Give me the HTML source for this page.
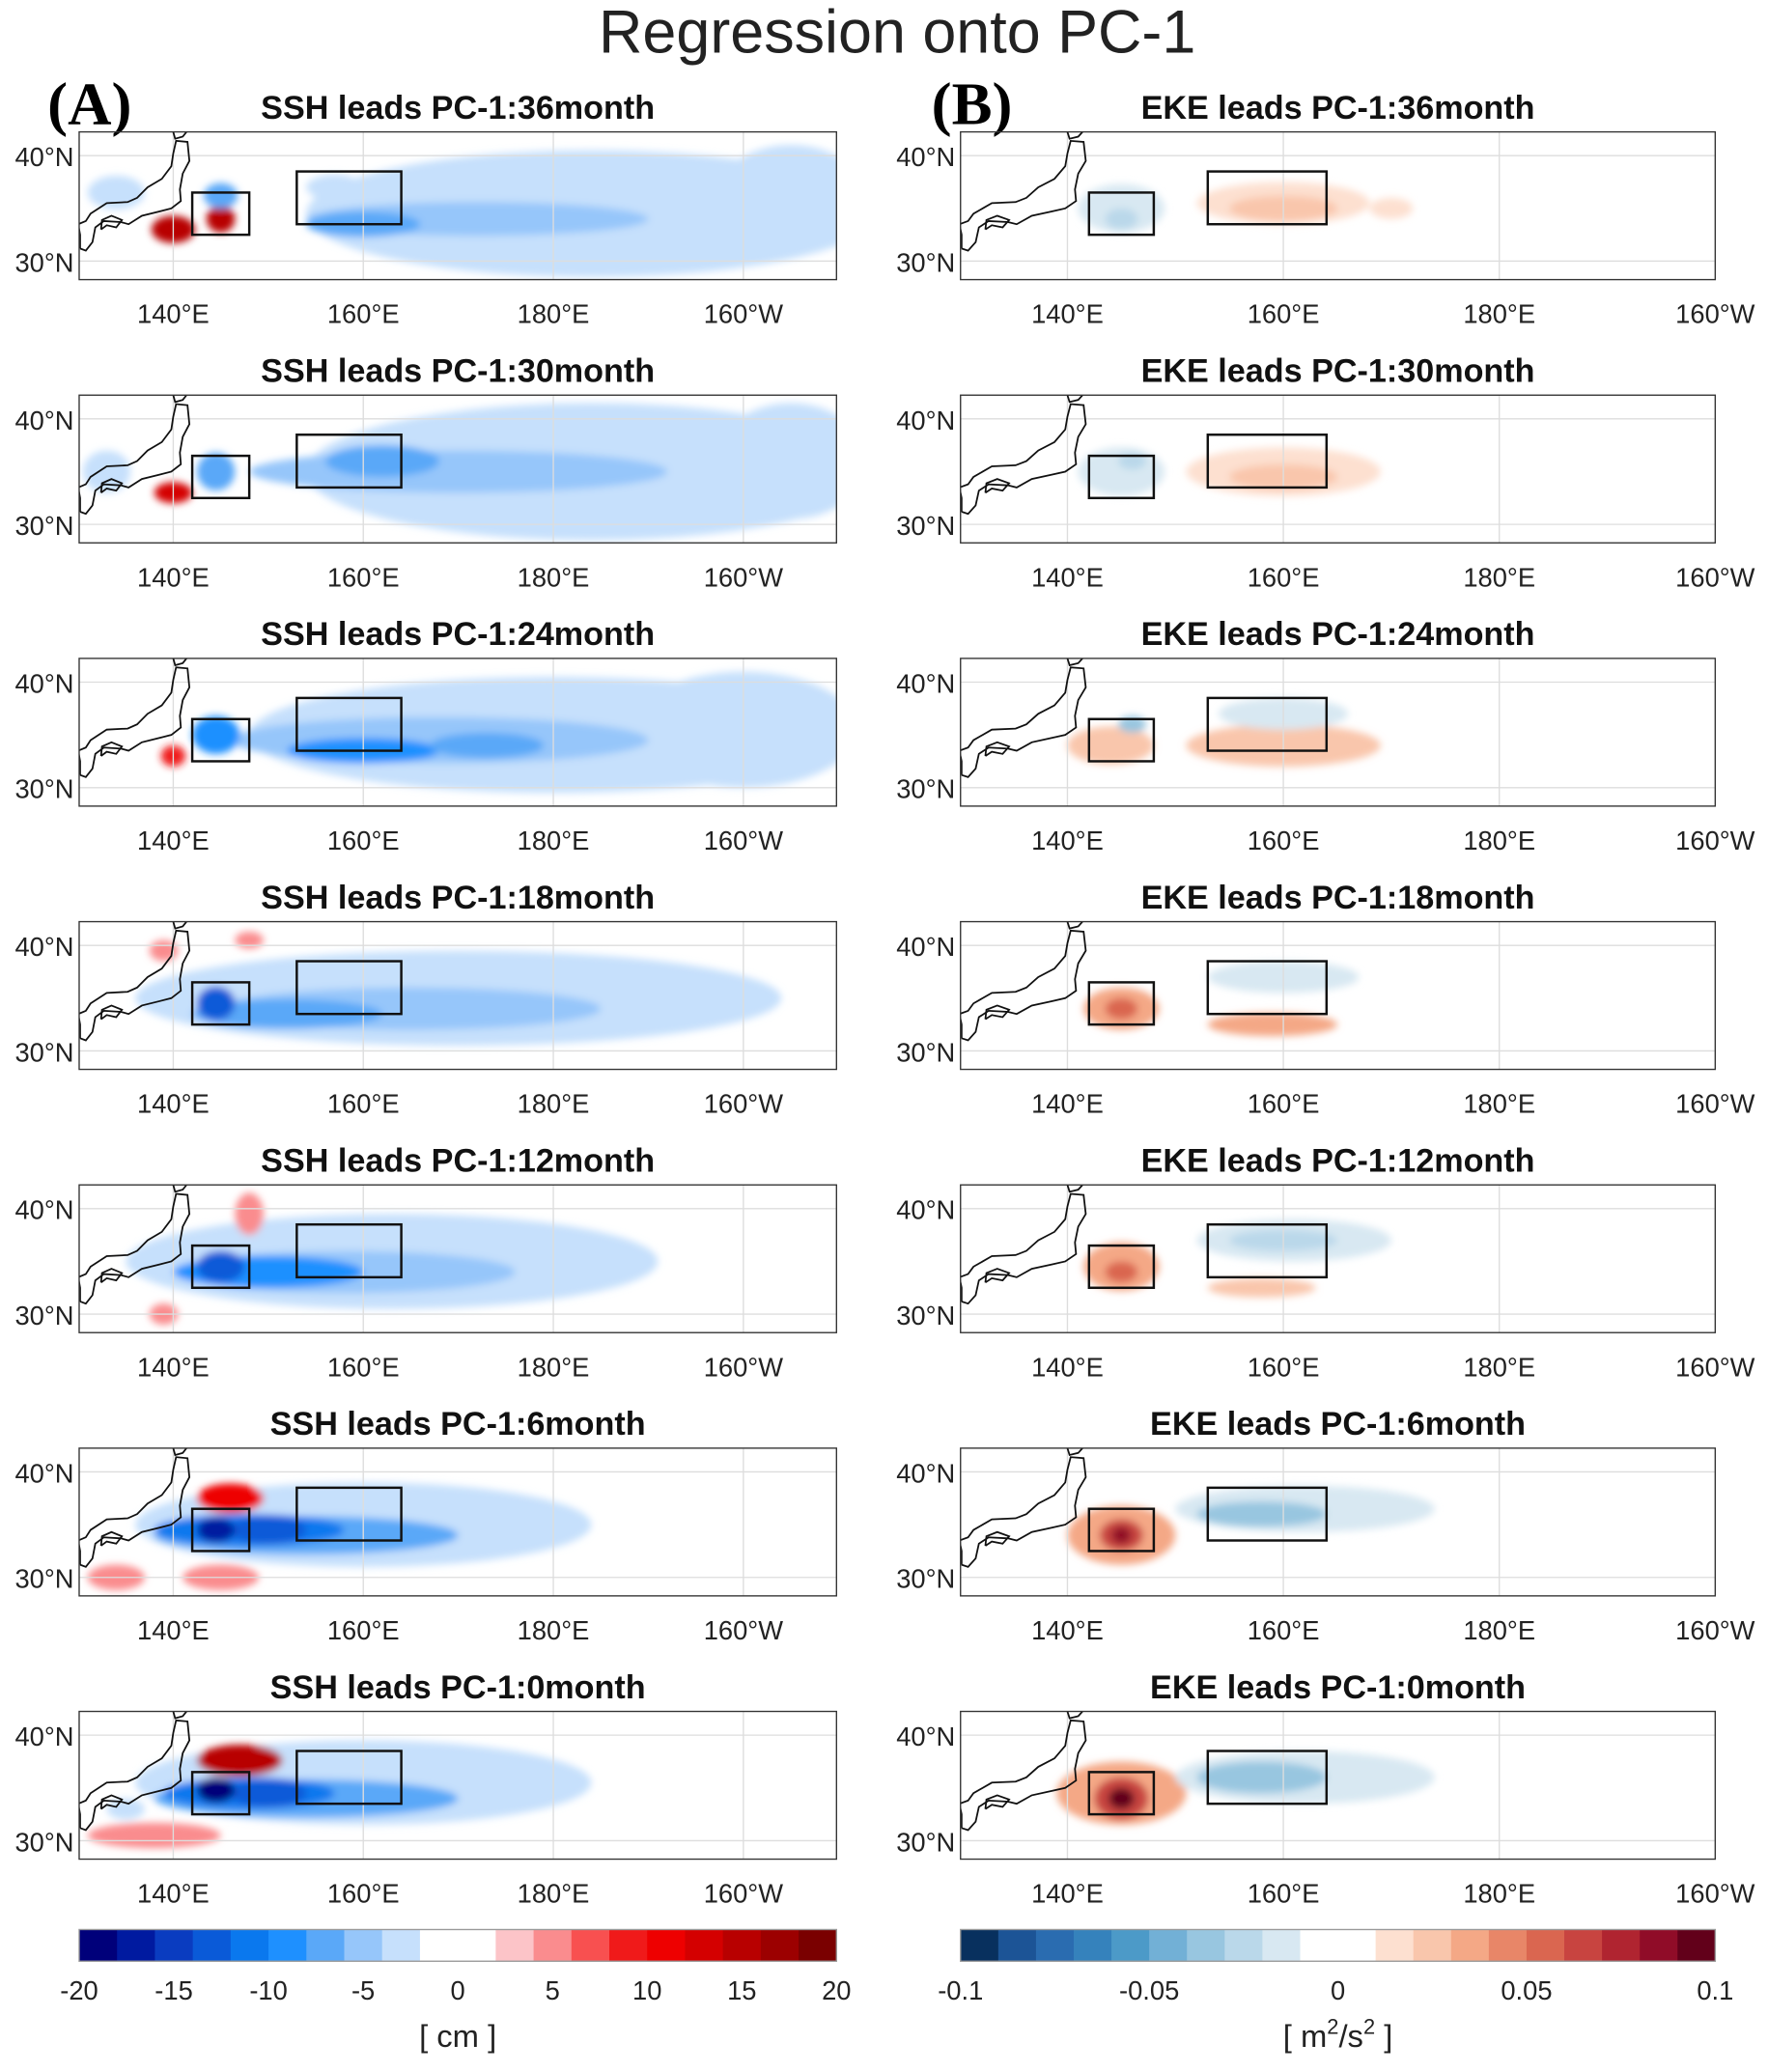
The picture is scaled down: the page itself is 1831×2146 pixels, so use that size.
<!DOCTYPE html>
<html><head><meta charset="utf-8">
<style>
html,body{margin:0;padding:0;background:#fff;}
svg{display:block;}
text{font-family:"Liberation Sans",Arial,sans-serif;}
</style></head>
<body>
<svg id="fig" xmlns="http://www.w3.org/2000/svg" width="1831" height="2146" viewBox="0 0 1340 1571" preserveAspectRatio="none">
<defs>
<filter id="blur" x="-50%" y="-50%" width="200%" height="200%"><feGaussianBlur stdDeviation="3"/></filter>
</defs>
<text x="680" y="40" font-size="46" text-anchor="middle" fill="#222">Regression onto PC-1</text>
<text x="36" y="94" font-size="46" font-weight="bold" style="font-family:'Liberation Serif',serif">(A)</text>
<text x="706" y="94" font-size="46" font-weight="bold" style="font-family:'Liberation Serif',serif">(B)</text>
<g id="panels"></g>
<g id="cbars"></g>
</svg>
<script>
// ---- data ----
const leadMonths = [36, 30, 24, 18, 12, 6, 0];
const sshTicks = ["-20","-15","-10","-5","0","5","10","15","20"];
const ekeTicks = ["-0.1","-0.05","0","0.05","0.1"];
const lonTickLabelsA = ["140°E","160°E","180°E","160°W"];
const lonTickValues = [140,160,180,200];
const latTickValues = [30,40];
const sshColors = ["#00007a","#001aa0","#0a3cc0","#0a5ad8","#0a78ee","#1e90ff","#5aa8f8","#96c6fa","#c6e0fc","#ffffff","#ffffff","#fcc4c8","#fa8c8e","#f85050","#f01a1a","#ee0000","#d40000","#b80000","#9c0000","#7a0000"];
const ekeColors = ["#08305e","#1c5496","#2a6cb0","#3582bc","#4c9ac8","#72b0d6","#98c6e0","#bad8ea","#d8e8f2","#ffffff","#ffffff","#fde0d0","#f9c6ac","#f4a886","#e88668","#da6650","#c84440","#b02430","#900c28","#62001a"];
// blobs: [lon, lat, rxDeg, ryDeg, colorIndex]
const sshBlobs = [
 [[184,34.5,30,6,8],[205,36,8,5,8],[172,34,18,1.6,7],[160,33.5,6,1.2,6],[140,33,2.3,1.3,17],[145,34,1.5,1.3,17],[145,36.2,1.8,1.2,6],[134,36.5,3,1.6,8],[157,37,3,1.2,8]],
 [[184,35,30,6.5,8],[205,36,8,5.5,8],[170,35,22,2,7],[140,33,2,1,16],[144.5,35,2,1.8,6],[162,36,6,1.5,6],[133,35,2.5,2,8]],
 [[180,35,32,5.5,8],[200,35.5,12,5.5,8],[168,34.5,22,2.2,7],[160,33.5,8,1.2,5],[144.5,35,2.5,1.8,5],[140,33,1.3,1,14],[173,34,6,1.2,6]],
 [[170,35,34,4.5,8],[165,34,20,2,7],[152,33.5,10,1.4,6],[144.5,34.5,2,1.6,3],[139,39.5,1.5,1,12],[148,40.5,1.5,0.8,12]],
 [[163,35,28,4.5,8],[158,34,18,2,7],[150,34,10,1.5,5],[145,34.5,2.5,1.5,3],[148,39.5,1.5,2,12],[139,30,1.5,1,12]],
 [[160,35,24,4,8],[154,34,16,1.8,6],[148,34.5,10,1.5,4],[150,34.5,4,1.3,3],[144.5,34.5,2,1.2,1],[146,37.5,3.5,1.4,15],[134,30,3,1.2,12],[145,30,4,1.2,12]],
 [[160,35.5,24,4,8],[154,34,16,1.8,6],[148,34.5,9,1.5,4],[150,34.5,4,1.3,3],[144.5,34.8,2,1.2,0],[147,37.6,4.5,1.5,17],[138,30.5,7,1.2,12],[135,33,2,1,8]]
];
const ekeBlobs = [
 [[145,35,4,2.3,8],[145,34,1.5,1,7],[160,35.5,8,2,11],[160,35,5,1.2,12],[170,35,2,1,11]],
 [[145,35,4,2.3,8],[146,36,1.3,0.8,7],[160,35,9,2.3,11],[160,34.5,5,1.2,12]],
 [[144,34,4,1.8,12],[146,36,1.3,0.8,6],[160,34,9,2,12],[160,37,6,1.5,8]],
 [[145,34,3.5,2,13],[145,34,1.5,1,15],[159,32.5,6,1.1,13],[160,37,7,1.5,8]],
 [[145,34.5,3.5,2.3,13],[145,34,1.5,1,15],[158,32.5,5,0.9,12],[161,37,9,2,8],[160,37,5,1,7]],
 [[145,34,5,2.8,13],[145,34,2,1.5,16],[145,34,0.9,0.8,18],[162,36.5,12,2.2,8],[158,36,6,1.2,6]],
 [[145,34.5,6,3,13],[145,34,2.5,2,16],[145,34,1.2,1,19],[162,36,12,2.5,8],[158,36,6,1.5,6]]
];
const japanLonLat = [[130.2,31.2],[130.8,31.0],[131.5,31.8],[131.8,33.2],[132.7,33.8],[134.5,33.7],[135.3,33.5],[136.7,34.3],[138.5,34.7],[139.8,35.0],[140.8,35.7],[140.7,36.8],[141.0,38.3],[141.7,39.5],[141.5,41.3],[140.3,41.4],[140.0,40.2],[139.8,39.0],[138.8,37.8],[137.3,37.0],[136.2,36.0],[135.2,35.6],[133.0,35.5],[131.3,34.5],[130.8,33.8],[130.0,33.5],[130.2,32.5],[130.2,31.2]];
const hokkaido = [[140.0,42.25],[140.2,41.6],[141.0,41.8],[141.4,42.25]];
const shikoku = [[132.4,33.0],[133.0,33.4],[134.0,33.2],[134.6,33.9],[133.5,34.3],[132.5,33.9],[132.4,33.0]];

const NS="http://www.w3.org/2000/svg";
function mk(tag, attrs, parent){const e=document.createElementNS(NS,tag);for(const k in attrs)e.setAttribute(k,attrs[k]);if(parent)parent.appendChild(e);return e;}
const panelsG=document.getElementById('panels');
const geom = {
 A:{x0:60,x1:634,lon0:130.1,lon1:209.8,colors:sshColors,blobs:sshBlobs,title:"SSH"},
 B:{x0:728,x1:1300,lon0:130.1,lon1:200,colors:ekeColors,blobs:ekeBlobs,title:"EKE"}
};
const lat0=42.25, lat1=28.25;
leadMonths.forEach((m,i)=>{
 const y0=100+i*199.6, y1=y0+112;
 ["A","B"].forEach(p=>{
  const g=geom[p];
  const X=lon=>g.x0+(lon-g.lon0)/(g.lon1-g.lon0)*(g.x1-g.x0);
  const Y=lat=>y0+(lat0-lat)/(lat0-lat1)*(y1-y0);
  const grp=mk('g',{},panelsG);
  
  
  const cid='clip'+p+i;
  const cp=mk('clipPath',{id:cid},grp);mk('rect',{x:g.x0,y:y0,width:g.x1-g.x0,height:y1-y0},cp);
  const t=mk('text',{x:(g.x0+g.x1)/2,y:y0-10,'font-size':25,'font-weight':'bold','text-anchor':'middle',fill:'#111'},grp);
  t.textContent=g.title+" leads PC-1:"+m+"month";
  
  
  const fg=mk('g',{'clip-path':'url(#'+cid+')'},grp);
  const bl=mk('g',{filter:'url(#blur)'},fg);
  g.blobs[i].forEach(b=>{
   const e=mk('ellipse',{cx:X(b[0]),cy:Y(b[1]),rx:Math.abs(X(b[0]+b[2])-X(b[0])),ry:Math.abs(Y(b[1]+b[3])-Y(b[1])),fill:g.colors[b[4]]},bl);
   
   
  });
  lonTickValues.forEach(v=>{mk('line',{x1:X(v),x2:X(v),y1:y0,y2:y1,stroke:'#ddd','stroke-width':1},fg);});
  latTickValues.forEach(v=>{mk('line',{x1:g.x0,x2:g.x1,y1:Y(v),y2:Y(v),stroke:'#ddd','stroke-width':1},fg);});
  [japanLonLat,hokkaido,shikoku].forEach(poly=>{
   const c=mk('polyline',{points:poly.map(q=>X(q[0])+','+Y(q[1])).join(' '),fill:'none',stroke:'#111','stroke-width':1.3},fg);
   
   
  });
  [[142,148,36.5,32.5],[153,164,38.5,33.5]].forEach(bx=>{
   const r=mk('rect',{x:X(bx[0]),y:Y(bx[2]),width:X(bx[1])-X(bx[0]),height:Y(bx[3])-Y(bx[2]),fill:'none',stroke:'#111','stroke-width':1.8},grp);
   
   
  });
  const fr=mk('rect',{x:g.x0,y:y0,width:g.x1-g.x0,height:y1-y0,fill:'none',stroke:'#333','stroke-width':1},grp);
  
  
  lonTickValues.forEach((v,k)=>{
   const tt=mk('text',{x:X(v),y:y1+33,'font-size':20,'text-anchor':'middle',fill:'#222'},grp);
   tt.textContent=lonTickLabelsA[k];
   
   
  });
  latTickValues.forEach(v=>{
   const tt=mk('text',{x:g.x0-4,y:Y(v)+8,'font-size':20,'text-anchor':'end',fill:'#222'},grp);
   tt.textContent=v+"°N";
   
   
  });
 });
});
// colorbars
const cb=document.getElementById('cbars');
[["A",sshColors,sshTicks,"[ cm ]"],["B",ekeColors,ekeTicks,null]].forEach(c=>{
 const g=geom[c[0]];const y0=1463,h=24;const w=(g.x1-g.x0)/c[1].length;
 const grp=mk('g',{},cb);
 
 
 c[1].forEach((col,k)=>{mk('rect',{x:g.x0+k*w,y:y0,width:w+0.5,height:h,fill:col},grp);});
 mk('rect',{x:g.x0,y:y0,width:g.x1-g.x0,height:h,fill:'none',stroke:'#999','stroke-width':1},grp);
 const n=c[2].length;
 c[2].forEach((lab,k)=>{
  const tt=mk('text',{x:g.x0+k*(g.x1-g.x0)/(n-1),y:1516,'font-size':20,'text-anchor':'middle',fill:'#222'},grp);
  tt.textContent=lab;
  
  
 });
 const u=mk('text',{x:(g.x0+g.x1)/2,y:1552,'font-size':24,'text-anchor':'middle',fill:'#222'},grp);
 if(c[3]){u.textContent=c[3];}
 else{u.innerHTML='[ m<tspan dy="-10" font-size="16">2</tspan><tspan dy="10">/s</tspan><tspan dy="-10" font-size="16">2</tspan><tspan dy="10"> ]</tspan>';}
 
 
});
</script>
</body></html>
